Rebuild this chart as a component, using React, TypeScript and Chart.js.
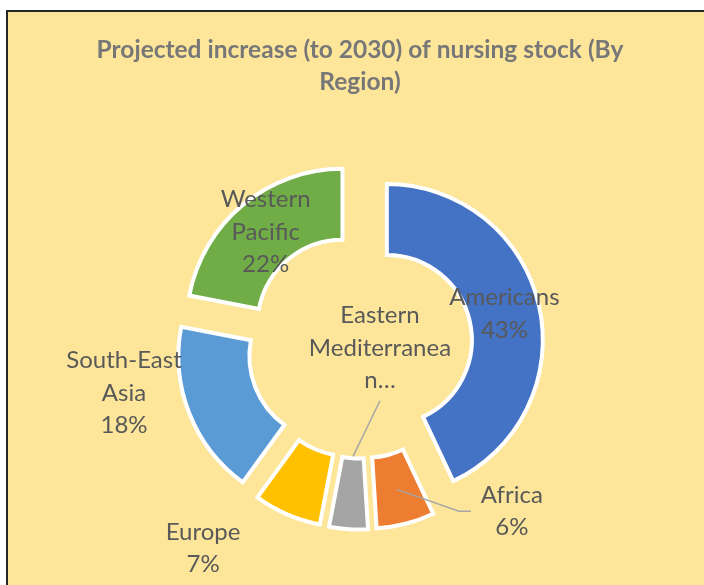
import React, { useEffect, useRef } from 'react';
import { Chart, ArcElement, DoughnutController, Title } from 'chart.js';

Chart.register(ArcElement, DoughnutController, Title);

// ---------- data ----------
const categories = ['Americans', 'Africa', 'Eastern Mediterranean', 'Europe', 'South-East Asia', 'Western Pacific'];
const values = [43, 6, 4, 7, 18, 22];
const colors = ['#4472C4', '#ED7D31', '#A5A5A5', '#FFC000', '#5B9BD5', '#70AD47'];
// wrapped label text as shown in the chart (EM is truncated, without a percentage)
const labelLines = [['Americans'], ['Africa'], ['Eastern', 'Mediterranea', 'n…'], ['Europe'], ['South-East', 'Asia'], ['Western', 'Pacific']];
const showPercent = [true, true, false, true, true, true];
// null -> label inside the slice; otherwise polar position (deg clockwise from top, distance in radii)
const labelPlacement: ({ angle: number; dist: number; leader: string | null } | null)[] = [
  null,
  { angle: 137.4, dist: 1.42, leader: 'elbow' },
  { angle: 95.7, dist: 0.127, leader: 'below' },
  { angle: 217.8, dist: 1.62, leader: null },
  { angle: 258.7, dist: 1.523, leader: null },
  null,
];
const titleLines = ['Projected increase (to 2030) of nursing stock (By', 'Region)'];

// ---------- style ----------
const EXPLODE = 27.5;
const BORDER = 4;
const LABEL_SIZE = 24;
const LINE_H = 32.5;
const LABEL_FONT = 'Lato';

// exploded slices: shift each arc along its mid-angle without changing its radii
const protoAny = ArcElement.prototype as any;
if (!protoAny.__exploded) {
  const baseDraw = protoAny.draw;
  protoAny.draw = function (ctx: CanvasRenderingContext2D) {
    const a = (this.startAngle + this.endAngle) / 2;
    ctx.save();
    ctx.translate(Math.cos(a) * EXPLODE, Math.sin(a) * EXPLODE);
    baseDraw.call(this, ctx);
    ctx.restore();
  };
  protoAny.__exploded = true;
}

const labelPlugin = {
  id: 'sliceLabels',
  afterDatasetsDraw(chart: any) {
    const ctx: CanvasRenderingContext2D = chart.ctx;
    const meta = chart.getDatasetMeta(0);
    const total = values.reduce((a, b) => a + b, 0);
    ctx.save();
    ctx.font = `${LABEL_SIZE}px ${LABEL_FONT}`;
    ctx.textAlign = 'center';
    ctx.textBaseline = 'middle';
    meta.data.forEach((arc: any, i: number) => {
      const { x, y, startAngle, endAngle, innerRadius, outerRadius } = arc.getProps(
        ['x', 'y', 'startAngle', 'endAngle', 'innerRadius', 'outerRadius'], true);
      const mid = (startAngle + endAngle) / 2;
      const ox = x + Math.cos(mid) * EXPLODE;
      const oy = y + Math.sin(mid) * EXPLODE;
      const R = outerRadius + BORDER / 2;
      const lines = [...labelLines[i]];
      if (showPercent[i]) lines.push(Math.round((values[i] / total) * 100) + '%');
      const place = labelPlacement[i];
      let lx: number, ly: number;
      if (!place) {
        const rm = (innerRadius + outerRadius) / 2;
        lx = ox + Math.cos(mid) * rm;
        ly = oy + Math.sin(mid) * rm;
      } else {
        const t = (place.angle * Math.PI) / 180;
        lx = x + Math.sin(t) * place.dist * R;
        ly = y - Math.cos(t) * place.dist * R;
      }
      const top = ly - ((lines.length - 1) * LINE_H) / 2;
      const w = Math.max(...lines.map((s) => ctx.measureText(s).width));
      if (place && place.leader) {
        ctx.strokeStyle = '#A6A6A6';
        ctx.lineWidth = 1.5;
        ctx.beginPath();
        if (place.leader === 'elbow') {
          const x0 = lx - w / 2 - 10;
          const rm = (innerRadius + outerRadius) / 2;
          ctx.moveTo(x0, ly);
          ctx.lineTo(x0 - 12, ly);
          ctx.lineTo(ox + Math.cos(mid) * rm, oy + Math.sin(mid) * rm);
        } else {
          const yb = top + (lines.length - 1) * LINE_H + LINE_H / 2 + 4;
          ctx.moveTo(lx, yb);
          const ri = innerRadius - BORDER / 2;
          ctx.lineTo(ox + Math.cos(mid) * ri, oy + Math.sin(mid) * ri);
        }
        ctx.stroke();
      }
      ctx.fillStyle = '#595959';
      lines.forEach((s, k) => ctx.fillText(s, lx, top + k * LINE_H));
    });
    ctx.restore();
  },
};

export default function App() {
  const ref = useRef<HTMLCanvasElement | null>(null);
  useEffect(() => {
    if (!ref.current) return;
    const chart = new Chart(ref.current, {
      type: 'doughnut',
      data: {
        labels: categories,
        datasets: [
          {
            data: values,
            backgroundColor: colors,
            borderColor: '#FFFFFF',
            borderWidth: BORDER,
            borderJoinStyle: 'miter',
          } as any,
        ],
      },
      options: {
        responsive: false,
        animation: false,
        events: [],
        radius: 156,
        cutout: '54.5%',
        layout: { padding: { left: 16, right: 0, top: 0, bottom: 0 } },
        plugins: {
          legend: { display: false },
          tooltip: { enabled: false },
          title: {
            display: true,
            text: titleLines,
            color: '#777777',
            font: { family: LABEL_FONT, size: 24.5, weight: 'bold', lineHeight: 32 / 24.5 },
            padding: { top: 34, bottom: 9 },
          },
        },
      } as any,
      plugins: [labelPlugin],
    });
    return () => chart.destroy();
  }, []);

  return (
    <div style={{ position: 'fixed', left: 0, top: 0, width: 704, height: 585, background: '#FFFFFF', overflow: 'hidden' }}>
      <div
        style={{
          position: 'absolute',
          left: 6,
          top: 10,
          width: 800,
          height: 700,
          background: '#FDE69A',
          border: '2px solid #262626',
        }}
      />
      <canvas ref={ref} width={704} height={585} style={{ position: 'absolute', left: 0, top: 0 }} />
    </div>
  );
}
